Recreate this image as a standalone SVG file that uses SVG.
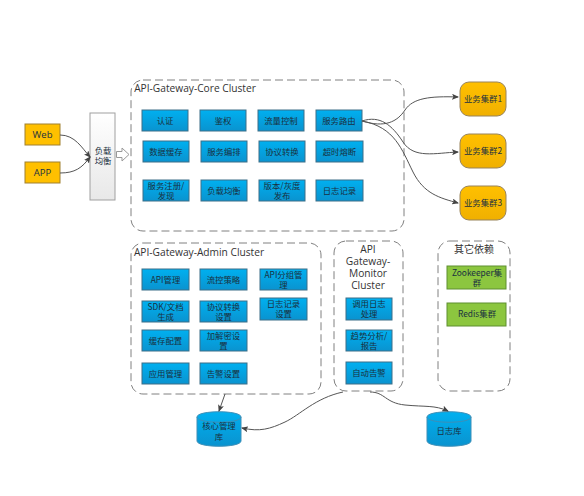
<svg xmlns="http://www.w3.org/2000/svg" width="584" height="496" viewBox="0 0 584 496">
<style>
text{font-family:"Noto Sans CJK SC","Liberation Sans",sans-serif;text-anchor:middle;font-size:8.4px;fill:#1a3040}
.t{font-family:"Open Sans","Noto Sans CJK SC",sans-serif;font-size:10.2px;fill:#333}
.h{font-size:10px;fill:#333}
.w{font-family:"Open Sans",sans-serif;font-size:9.5px}
.c{fill:#fff;stroke:#808080;stroke-width:1;stroke-dasharray:8 4}
.b{fill:url(#blue);stroke:#3d6f88;stroke-width:1}
.g{fill:#8cc63f;stroke:#5f8f30;stroke-width:1}
.y{fill:url(#gold);stroke:#98835a;stroke-width:1}
.l{fill:none;stroke:#555;stroke-width:1;marker-end:url(#a)}
</style>
<defs>
<linearGradient id="blue" x1="0" y1="0" x2="0" y2="1"><stop offset="0" stop-color="#00b0f0"/><stop offset="1" stop-color="#0a93cf"/></linearGradient>
<linearGradient id="gold" x1="0" y1="0" x2="0" y2="1"><stop offset="0" stop-color="#ffc000"/><stop offset="1" stop-color="#f0b000"/></linearGradient>
<linearGradient id="lb" x1="0" y1="0" x2="0" y2="1"><stop offset="0" stop-color="#fff"/><stop offset="1" stop-color="#e8e8e8"/></linearGradient>
<marker id="a" markerUnits="userSpaceOnUse" markerWidth="7" markerHeight="6" refX="6" refY="3" orient="auto"><path d="M0 0L7 3L0 6L1.500 3Z" fill="#444"/></marker>
</defs>
<g id="core-cluster"><rect class="c" x="131" y="80" width="273" height="151" rx="12"/><text class="t" x="195" y="92">API-Gateway-Core Cluster</text></g>
<g id="admin-cluster"><rect class="c" x="131" y="243" width="190" height="151" rx="12"/><text class="t" x="199" y="256">API-Gateway-Admin Cluster</text></g>
<g id="monitor-cluster"><rect class="c" x="334" y="241" width="69" height="150" rx="12"/><text class="t" x="368" y="253">API</text><text class="t" x="368" y="265">Gateway-</text><text class="t" x="368" y="277">Monitor</text><text class="t" x="368" y="289">Cluster</text></g>
<g id="other-cluster"><rect class="c" x="438" y="241" width="72" height="150" rx="12"/><text class="h" x="474" y="253">其它依赖</text></g>
<g id="web"><rect x="25" y="124" width="35" height="21" fill="#ffc000" stroke="#a08030"/><text class="w" x="42.500" y="137.500">Web</text></g>
<g id="app"><rect x="25" y="162" width="35" height="21" fill="#ffc000" stroke="#a08030"/><text class="w" x="42.500" y="175.500">APP</text></g>
<g id="lb"><rect x="90" y="113" width="25" height="87" fill="url(#lb)" stroke="#a0a0a0"/><text x="103" y="154">负载</text><text x="103" y="164">均衡</text></g>
<path id="hollow-arrow" d="M116.500 151.500H122V148L129 154.500L122 161V157.500H116.500Z" fill="#fff" stroke="#999"/>
<g id="n1"><rect class="b" x="142" y="110" width="46" height="21"/><text x="165" y="123.500">认证</text></g>
<g id="n2"><rect class="b" x="200" y="110" width="46" height="21"/><text x="223" y="123.500">鉴权</text></g>
<g id="n3"><rect class="b" x="258" y="110" width="46" height="21"/><text x="281" y="123.500">流量控制</text></g>
<g id="n4"><rect class="b" x="316" y="110" width="46" height="21"/><text x="339" y="123.500">服务路由</text></g>
<g id="n5"><rect class="b" x="143" y="141" width="46" height="21"/><text x="166" y="155">数据缓存</text></g>
<g id="n6"><rect class="b" x="201" y="141" width="46" height="21"/><text x="224" y="155">服务编排</text></g>
<g id="n7"><rect class="b" x="259" y="141" width="46" height="21"/><text x="282" y="155">协议转换</text></g>
<g id="n8"><rect class="b" x="316" y="141" width="47" height="21"/><text x="339.500" y="155">超时熔断</text></g>
<g id="n9"><rect class="b" x="143" y="180" width="46" height="21"/><text x="166" y="188.800">服务注册/</text><text x="166" y="199">发现</text></g>
<g id="n10"><rect class="b" x="201" y="180" width="46" height="21"/><text x="224" y="193.500">负载均衡</text></g>
<g id="n11"><rect class="b" x="259" y="180" width="46" height="21"/><text x="282" y="188.800">版本/灰度</text><text x="282" y="199">发布</text></g>
<g id="n12"><rect class="b" x="316" y="180" width="47" height="21"/><text x="339.500" y="193.500">日志记录</text></g>
<g id="a1"><rect class="b" x="142" y="269" width="47" height="21"/><text x="165.500" y="282.500">API管理</text></g>
<g id="a2"><rect class="b" x="200" y="269" width="47" height="21"/><text x="223.500" y="282.500">流控策略</text></g>
<g id="a3"><rect class="b" x="260" y="269" width="47" height="21"/><text x="283.500" y="277.500">API分组管</text><text x="283.500" y="288">理</text></g>
<g id="a4"><rect class="b" x="142" y="301" width="47" height="21"/><text x="165.500" y="309.500">SDK/文档</text><text x="165.500" y="320">生成</text></g>
<g id="a5"><rect class="b" x="200" y="301" width="47" height="21"/><text x="223.500" y="309.500">协议转换</text><text x="223.500" y="320">设置</text></g>
<g id="a6"><rect class="b" x="260" y="298" width="47" height="22"/><text x="283.500" y="306.500">日志记录</text><text x="283.500" y="317">设置</text></g>
<g id="a7"><rect class="b" x="142" y="330" width="47" height="21"/><text x="165.500" y="343.500">缓存配置</text></g>
<g id="a8"><rect class="b" x="200" y="330" width="47" height="21"/><text x="223.500" y="338.500">加解密设</text><text x="223.500" y="349">置</text></g>
<g id="a9"><rect class="b" x="142" y="363" width="47" height="21"/><text x="165.500" y="376.500">应用管理</text></g>
<g id="a10"><rect class="b" x="200" y="363" width="47" height="21"/><text x="223.500" y="376.500">告警设置</text></g>
<g id="m1"><rect class="b" x="346" y="298" width="46" height="22"/><text x="369" y="306.500">调用日志</text><text x="369" y="317">处理</text></g>
<g id="m2"><rect class="b" x="346" y="330" width="46" height="21"/><text x="369" y="338.500">趋势分析/</text><text x="369" y="349">报告</text></g>
<g id="m3"><rect class="b" x="346" y="362" width="46" height="22"/><text x="369" y="376">自动告警</text></g>
<g id="zk"><rect class="g" x="447" y="266" width="59" height="23"/><text x="477" y="275.500">Zookeeper集</text><text x="477" y="286">群</text></g>
<g id="redis"><rect class="g" x="447" y="303" width="59" height="23"/><text x="477" y="317">Redis集群</text></g>
<g id="biz1"><rect class="y" x="460" y="82" width="46" height="34" rx="9"/><text x="483" y="102">业务集群1</text></g>
<g id="biz2"><rect class="y" x="460" y="134" width="46" height="34" rx="9"/><text x="483" y="154">业务集群2</text></g>
<g id="biz3"><rect class="y" x="460" y="186" width="46" height="34" rx="9"/><text x="483" y="206">业务集群3</text></g>
<g id="db1"><path d="M197 417C197 410 241 410 241 417V441C241 448 197 448 197 441Z" fill="url(#blue)" stroke="#3d8fb8"/><path d="M197 417C197 424 241 424 241 417" fill="none" stroke="#3d8fb8"/><text x="219" y="429">核心管理</text><text x="219" y="440">库</text></g>
<g id="db2"><path d="M427 417C427 410 471 410 471 417V441C471 448 427 448 427 441Z" fill="url(#blue)" stroke="#3d8fb8"/><path d="M427 417C427 424 471 424 471 417" fill="none" stroke="#3d8fb8"/><text x="449" y="434">日志库</text></g>
<g id="connectors">
<path class="l" d="M60 135C75 135 82 148 90 157"/>
<path class="l" d="M60 173C75 173 82 168 90 157"/>
<path class="l" d="M362 121C385 128 397 122 405 110S430 96 458 97"/>
<path class="l" d="M362 121C380 115 392 125 403 142S435 153 458 152"/>
<path class="l" d="M362 121C395 127 402 150 413 172S440 198 458 203"/>
<path class="l" d="M225 394L219 411"/>
<path class="l" d="M343 392C315 398 300 415 285 422S260 432 242 428"/>
<path class="l" d="M370 392C385 392 385 403 405 405S435 405 448 411"/>
</g>
</svg>
